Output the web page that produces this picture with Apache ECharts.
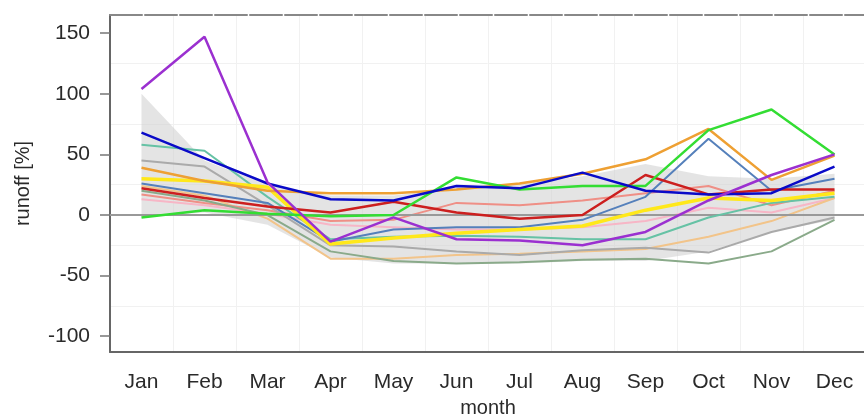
<!DOCTYPE html>
<html>
<head>
<meta charset="utf-8">
<script src="https://cdn.jsdelivr.net/npm/echarts@6/dist/echarts.min.js"></script>
<style>
  html, body { margin: 0; padding: 0; background: #fff; }
  #chart { width: 864px; height: 417px; }
</style>
</head>
<body>
<div id="chart"></div>
<script>
// Monthly runoff change [%] per simulation, with the ensemble envelope
const months = ['Jan', 'Feb', 'Mar', 'Apr', 'May', 'Jun', 'Jul', 'Aug', 'Sep', 'Oct', 'Nov', 'Dec'];
const yTickValues = [-100, -50, 0, 50, 100, 150];

const envelopeUpper = [100, 45, 25, 16, 16, 22, 26, 32, 42, 32, 30, 34];
const envelopeLower = [-2, 2, -8, -35, -40, -40, -40, -38, -38, -30, -14, -4];

const runPink       = [13, 8, 1, -8, -10, -12, -12, -10, -5, 6, 2, 14];
const runTan        = [24, 16, -3, -36, -36, -33, -32, -30, -28, -18, -5, 14];
const runSalmon     = [17, 10, 4, -5, -4, 10, 8, 12, 18, 24, 8, 20];
const runSeaGreen   = [20, 12, 0, -30, -38, -40, -39, -37, -36, -40, -30, -4];
const runGray       = [45, 40, 8, -25, -26, -30, -33, -29, -27, -31, -14, -2];
const runTeal       = [58, 53, 15, -20, -18, -17, -18, -20, -20, -2, 10, 15];
const runSteel      = [26, 18, 10, -22, -12, -10, -10, -4, 15, 63, 20, 30];
const runYellow     = [30, 28, 23, -24, -19, -15, -12, -9, 4, 14, 12, 18];
const runRed        = [22, 14, 7, 2, 11, 2, -3, 0, 33, 17, 21, 21];
const runOrange     = [39, 28, 20, 18, 18, 21, 26, 34, 46, 71, 29, 49];
const runGreen      = [-2, 4, 1, -1, 0, 31, 21, 24, 24, 70, 87, 50];
const runBlue       = [68, 47, 26, 13, 12, 24, 22, 35, 20, 17, 18, 40];
const runPurple     = [104, 147, 27, -22, -2, -20, -21, -25, -14, 12, 33, 50];

const lines = [
  { data: runPink,     color: '#f7b6c6', width: 2 },
  { data: runTan,      color: '#f2c48a', width: 2 },
  { data: runSalmon,   color: '#ef8f86', width: 2 },
  { data: runSeaGreen, color: '#8aaa8a', width: 2 },
  { data: runGray,     color: '#aaaaaa', width: 2 },
  { data: runTeal,     color: '#66c2a5', width: 2 },
  { data: runSteel,    color: '#5580bb', width: 2 },
  { data: runYellow,   color: '#ffe81a', width: 3.5 },
  { data: runRed,      color: '#cc1f1f', width: 2.5 },
  { data: runOrange,   color: '#eea033', width: 2.5 },
  { data: runGreen,    color: '#33dd33', width: 2.5 },
  { data: runBlue,     color: '#0a0ac8', width: 2.5 },
  { data: runPurple,   color: '#9b30d0', width: 2.5 }
];

const font = '"Liberation Sans", Arial, sans-serif';
const textColor = '#2a2a2a';
const chart = echarts.init(document.getElementById('chart'), null, { renderer: 'canvas' });

const envelopeData = months.map((m, i) => [i, envelopeLower[i], envelopeUpper[i]]);

const series = [
  {
    type: 'custom',
    name: 'envelope',
    z: 1,
    silent: true,
    data: envelopeData,
    renderItem: function (params, api) {
      if (params.dataIndex !== 0) return;
      const top = [], bottom = [];
      for (let i = 0; i < envelopeData.length; i++) {
        top.push(api.coord([envelopeData[i][0], envelopeData[i][2]]));
        bottom.unshift(api.coord([envelopeData[i][0], envelopeData[i][1]]));
      }
      return {
        type: 'polygon',
        shape: { points: top.concat(bottom) },
        style: { fill: 'rgba(205,205,205,0.55)' }
      };
    },
    markLine: {
      silent: true,
      symbol: 'none',
      label: { show: false },
      lineStyle: { color: '#999', width: 2, type: 'solid' },
      data: [{ yAxis: 0 }]
    }
  }
];

lines.forEach((l, k) => {
  series.push({
    type: 'line',
    data: l.data,
    z: 2 + k,
    symbol: 'none',
    silent: true,
    animation: false,
    lineStyle: { color: l.color, width: l.width }
  });
});

chart.setOption({
  animation: false,
  grid: { left: 110, top: 15, width: 756, bottom: 65, containLabel: false, outerBoundsMode: 'none' },
  xAxis: [
    {
      type: 'category',
      data: months,
      boundaryGap: true,
      position: 'bottom',
      name: 'month',
      nameLocation: 'middle',
      nameGap: 46,
      nameTextStyle: { fontFamily: font, fontSize: 20, color: textColor },
      axisLine: { onZero: false, lineStyle: { color: '#666', width: 2 } },
      axisTick: { alignWithLabel: true, length: 10, lineStyle: { color: '#777', width: 1.5 } },
      axisLabel: { margin: 20, fontFamily: font, fontSize: 21, color: textColor },
      splitLine: { show: true, lineStyle: { color: '#f1f1f1', width: 1 } }
    },
    {
      type: 'category',
      data: months,
      position: 'top',
      axisLine: { onZero: false, lineStyle: { color: '#888', width: 2, type: [32, 3] } },
      axisTick: { show: false },
      axisLabel: { show: false },
      splitLine: { show: false }
    }
  ],
  yAxis: {
    type: 'value',
    min: -113,
    max: 165,
    name: 'runoff [%]',
    nameLocation: 'middle',
    nameGap: 77,
    nameTextStyle: { fontFamily: font, fontSize: 20, color: textColor },
    axisLine: { show: true, lineStyle: { color: '#666', width: 2 } },
    axisTick: { show: true, length: 10, customValues: yTickValues, lineStyle: { color: '#777', width: 1.5 } },
    axisLabel: { margin: 20, customValues: yTickValues, fontFamily: font, fontSize: 21, color: textColor },
    splitLine: { show: false },
    minorTick: { show: false, splitNumber: 2 },
    minorSplitLine: { show: true, lineStyle: { color: '#f1f1f1', width: 1 } }
  },
  series: series
});
</script>
</body>
</html>
